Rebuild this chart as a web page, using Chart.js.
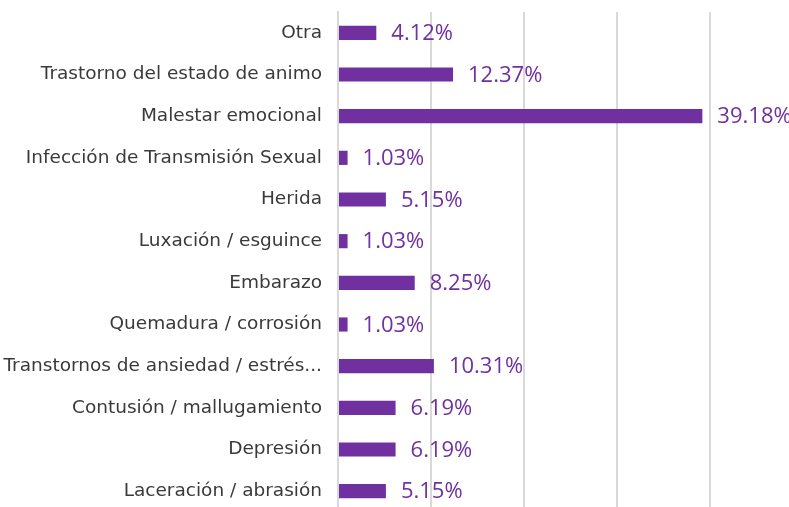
<!DOCTYPE html>
<html>
<head>
<meta charset="utf-8">
<script src="https://cdn.jsdelivr.net/npm/chart.js@4.4.1/dist/chart.umd.min.js"></script>
<style>
    html, body { margin: 0; padding: 0; background: #fff; overflow: hidden; }
    #wrap { position: relative; width: 803px; height: 512px; }
</style>
</head>
<body>
<div id="wrap"><canvas id="grafico"></canvas></div>
<script>
// Categorie e valori (in percentuale)
const categorie = [
    'Otra',
    'Trastorno del estado de animo',
    'Malestar emocional',
    'Infección de Transmisión Sexual',
    'Herida',
    'Luxación / esguince',
    'Embarazo',
    'Quemadura / corrosión',
    'Transtornos de ansiedad / estrés...',
    'Contusión / mallugamiento',
    'Depresión',
    'Laceración / abrasión'
];
const valori = [4.12, 12.37, 39.18, 1.03, 5.15, 1.03, 8.25, 1.03, 10.31, 6.19, 6.19, 5.15];

const viola = '#7030a0';

// Etichette dei valori a destra delle barre
const etichetteValori = {
    id: 'etichetteValori',
    afterDatasetsDraw(chart) {
        const ctx = chart.ctx;
        const meta = chart.getDatasetMeta(0);
        ctx.save();
        ctx.font = '22px "Open Sans"';
        ctx.fillStyle = viola;
        ctx.textAlign = 'left';
        ctx.textBaseline = 'middle';
        meta.data.forEach((bar, i) => {
            ctx.fillText(valori[i].toFixed(2) + '%', bar.x + 15, bar.y + 1);
        });
        ctx.restore();
    }
};

document.addEventListener('DOMContentLoaded', function () {
    const ctx = document.getElementById('grafico').getContext('2d');
    new Chart(ctx, {
        type: 'bar',
        data: {
            labels: categorie,
            datasets: [{
                data: valori,
                backgroundColor: viola,
                barPercentage: 0.34,
                categoryPercentage: 1
            }]
        },
        options: {
            indexAxis: 'y',
            responsive: true,
            maintainAspectRatio: false,
            animation: false,
            layout: { padding: { top: 12, bottom: 0, left: 0, right: 0 } },
            plugins: {
                legend: { display: false },
                tooltip: { enabled: false }
            },
            scales: {
                x: {
                    min: 0,
                    max: 50,
                    afterFit(scale) { scale.height = 0; },
                    ticks: { display: false, stepSize: 10 },
                    grid: { color: '#d9d9d9', lineWidth: 2, drawTicks: false },
                    border: { display: false }
                },
                y: {
                    afterFit(scale) {
                        scale.width = 338;
                        scale.paddingTop = 0;
                        scale.paddingBottom = 0;
                    },
                    ticks: {
                        color: '#3a3a3a',
                        font: { family: 'DejaVu Sans', size: 18.5 },
                        padding: 16
                    },
                    grid: { display: false, drawTicks: false },
                    border: { display: true, color: '#d9d9d9', width: 2 }
                }
            }
        },
        plugins: [etichetteValori]
    });
});
</script>
</body>
</html>
